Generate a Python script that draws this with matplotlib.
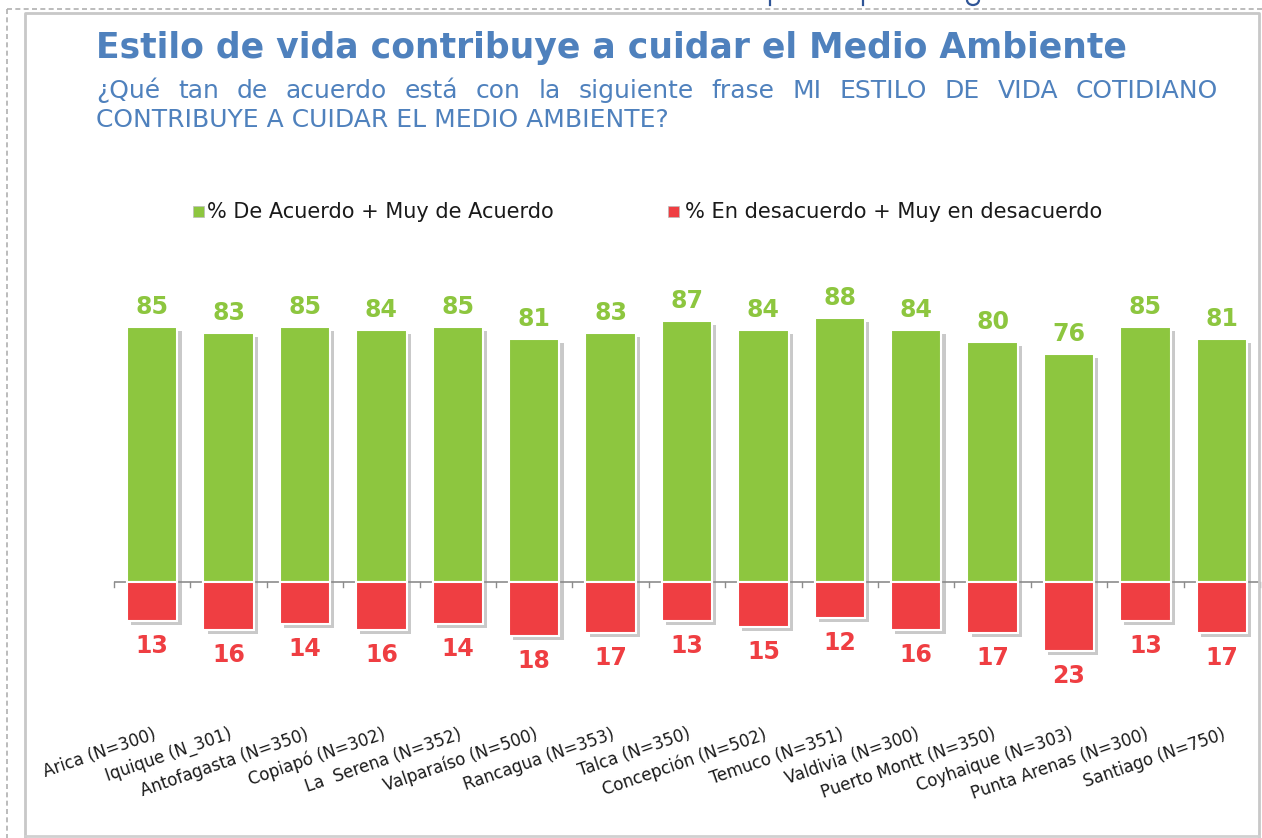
import matplotlib
matplotlib.use("Agg")
import matplotlib.pyplot as plt
import matplotlib.patheffects as pe
from matplotlib.patches import Rectangle, Arc
from matplotlib.lines import Line2D

# ---------------- data ----------------
categories = ["Arica (N=300)", "Iquique (N_301)", "Antofagasta (N=350)", "Copiapó (N=302)",
              "La  Serena (N=352)", "Valparaíso (N=500)", "Rancagua (N=353)", "Talca (N=350)",
              "Concepción (N=502)", "Temuco (N=351)", "Valdivia (N=300)", "Puerto Montt (N=350)",
              "Coyhaique (N=303)", "Punta Arenas (N=300)", "Santiago (N=750)"]
acuerdo = [85, 83, 85, 84, 85, 81, 83, 87, 84, 88, 84, 80, 76, 85, 81]
desacuerdo = [13, 16, 14, 16, 14, 18, 17, 13, 15, 12, 16, 17, 23, 13, 17]
series_names = ["% De Acuerdo + Muy de Acuerdo", "% En desacuerdo + Muy en desacuerdo"]
title = "Estilo de vida contribuye a cuidar el Medio Ambiente"
subtitle_1 = "¿Qué tan de acuerdo está con la siguiente frase MI ESTILO DE VIDA COTIDIANO"
subtitle_2 = "CONTRIBUYE A CUIDAR EL MEDIO AMBIENTE?"

GREEN = "#8DC63F"
RED = "#EF3E42"
BLUE = "#4F81BD"

W, H = 1262, 838
fig = plt.figure(figsize=(W / 100, H / 100), dpi=100)
fig.patch.set_facecolor("white")


def fx(px):
    return px / W


def fy(py):
    return 1 - py / H


# axes placement (pixels from top-left)
ax_left, ax_right, ax_top, ax_bottom = 114, 1260, 290, 700
ax = fig.add_axes([fx(ax_left), fy(ax_bottom), fx(ax_right - ax_left), (ax_bottom - ax_top) / H])
ax.set_xlim(-0.5, len(categories) - 0.5)
ax.set_ylim(-39.5, 97.2)
ax.axis("off")

x = list(range(len(categories)))
shadow = [pe.SimplePatchShadow(offset=(3, -3), shadow_rgbFace="#888888", alpha=0.45), pe.Normal()]
bw = 0.66
b1 = ax.bar(x, acuerdo, width=bw, color=GREEN, edgecolor="white", linewidth=1.5, zorder=3)
b2 = ax.bar(x, [-v for v in desacuerdo], width=bw, color=RED, edgecolor="white", linewidth=1.5, zorder=3)
for b in list(b1) + list(b2):
    b.set_path_effects(shadow)

# zero line and boundary ticks
ax.axhline(0, color="#8c8c8c", linewidth=1.2, zorder=2)
for i in range(len(categories) + 1):
    ax.plot([i - 0.5, i - 0.5], [0, -1.8], color="#8c8c8c", linewidth=1.0, zorder=2, clip_on=False)

# value labels
for i, (a, d) in enumerate(zip(acuerdo, desacuerdo)):
    ax.annotate(str(a), (i, a), xytext=(0, 13), textcoords="offset pixels", ha="center",
                va="baseline", fontsize=17, fontweight="bold", color=GREEN, zorder=5)
    ax.annotate(str(d), (i, -d), xytext=(0, -13), textcoords="offset pixels", ha="center",
                va="top", fontsize=17, fontweight="bold", color=RED, zorder=5)

# category labels
lab_y = -(725 - ax_bottom) / (ax_bottom - ax_top)
for i, c in enumerate(categories):
    ax.text(i, lab_y, c, transform=ax.get_xaxis_transform(), ha="right", va="top",
            rotation=19, rotation_mode="anchor", fontsize=12, color="#1a1a1a")

fig.canvas.draw()
r = fig.canvas.get_renderer()


def fit_text(px_x, px_y, s, target_w, size0, **kw):
    t = fig.text(fx(px_x), fy(px_y), s, fontsize=size0, va="baseline", ha="left", **kw)
    w = t.get_window_extent(r).width
    t.set_fontsize(size0 * target_w / w)
    return t


# title
fit_text(96, 58, title, 1032, 24, fontweight="bold", color=BLUE)

# subtitle line 2 (defines size)
t2 = fit_text(96, 127, subtitle_2, 572, 16, color=BLUE)
sub_size = t2.get_fontsize()

# subtitle line 1, justified between 96 and 1218
words = subtitle_1.split(" ")
wt = [fig.text(0, 0, w_, fontsize=sub_size, color=BLUE, va="baseline", ha="left") for w_ in words]
widths = [t.get_window_extent(r).width for t in wt]
gap = (1218 - 96 - sum(widths)) / (len(words) - 1)
cx = 96
for t, w_ in zip(wt, widths):
    t.set_position((fx(cx), fy(98)))
    cx += w_ + gap

# legend
leg_size = 13
fig.patches.append(Rectangle((fx(193), fy(217)), fx(11), 11 / H, transform=fig.transFigure,
                             facecolor=GREEN, edgecolor="#bbbbbb", linewidth=0.5))
fit_text(207, 218, series_names[0], 353 - 7, leg_size, color="#1a1a1a")
fig.patches.append(Rectangle((fx(668), fy(217)), fx(11), 11 / H, transform=fig.transFigure,
                             facecolor=RED, edgecolor="#bbbbbb", linewidth=0.5))
fit_text(685, 218, series_names[1], 418, leg_size, color="#1a1a1a")

# fragments of the page header cut off above the image (decorative strokes)
for px_x in (770, 863):
    fig.add_artist(Line2D([fx(px_x), fx(px_x)], [fy(0), fy(5)], transform=fig.transFigure,
                          color="#2F5597", linewidth=1.6))
fig.add_artist(Arc((fx(973), fy(0)), fx(12), 10 / H, theta1=180, theta2=360,
                   transform=fig.transFigure, color="#2F5597", linewidth=1.6))

# frames
fig.add_artist(Line2D([fx(7), fx(1262)], [fy(9), fy(9)], transform=fig.transFigure,
                      color="#b0b0b0", linewidth=1.2, linestyle=(0, (3, 2))))
fig.add_artist(Line2D([fx(7), fx(7)], [fy(9), fy(838)], transform=fig.transFigure,
                      color="#b0b0b0", linewidth=1.2, linestyle=(0, (3, 2))))
fig.add_artist(Line2D([fx(25), fx(25), fx(1259), fx(1259)], [fy(838), fy(13), fy(13), fy(838)],
                      transform=fig.transFigure, color="#c8c8c8", linewidth=2))
fig.add_artist(Line2D([fx(25), fx(1259)], [fy(836), fy(836)], transform=fig.transFigure,
                      color="#d0d0d0", linewidth=2))

fig.savefig("out.png", dpi=100, facecolor="white")
